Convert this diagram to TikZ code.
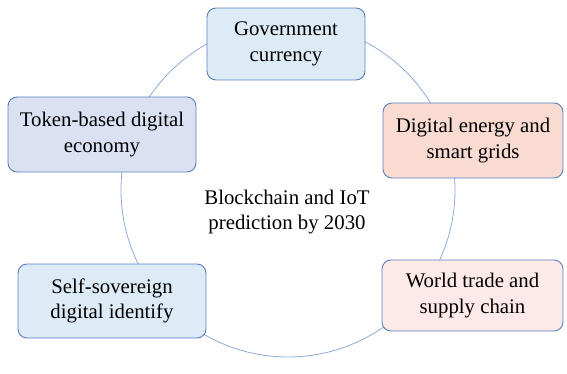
\documentclass[tikz,border=0pt]{standalone}
\usepackage{fontspec}
\setmainfont{Liberation Serif}
\definecolor{ringline}{HTML}{8EA9DB}
\definecolor{boxline}{HTML}{5B7FC0}
\definecolor{fillblue}{HTML}{DDEBF7}
\definecolor{filllav}{HTML}{DAE1F3}
\definecolor{fillsalmon}{HTML}{FADBD2}
\definecolor{fillpink}{HTML}{FDE9E7}
\tikzset{
  topic/.style={draw=boxline, rounded corners=9pt, line width=0.9pt, align=center,
    font=\fontsize{20.8}{25.5}\selectfont, inner sep=0pt}
}
\begin{document}
\begin{tikzpicture}[x=1pt,y=-1pt]
    \useasboundingbox (0,0) rectangle (567,374);
    \draw [ringline, line width=0.8pt] (288,190) circle (167);
    \node (center) at (287,212) [align=center, font=\fontsize{20.8}{25.5}\selectfont] {Blockchain and IoT\\prediction by 2030};
    \node (gov) at (286,44) [topic, fill=fillblue, minimum width=158, minimum height=72] {Government\\currency};
    \node (token) at (102,134.5) [topic, fill=filllav, minimum width=188, minimum height=75] {Token-based digital\\economy};
    \node (energy) at (473,140.5) [topic, fill=fillsalmon, minimum width=180, minimum height=75] {Digital energy and\\smart grids};
    \node (ident) at (112,301) [topic, fill=fillblue, minimum width=188, minimum height=74] {Self-sovereign\\digital identify};
    \node (trade) at (472.5,295.5) [topic, fill=fillpink, minimum width=181, minimum height=71] {World trade and\\supply chain};
  \end{tikzpicture}
\end{document}
